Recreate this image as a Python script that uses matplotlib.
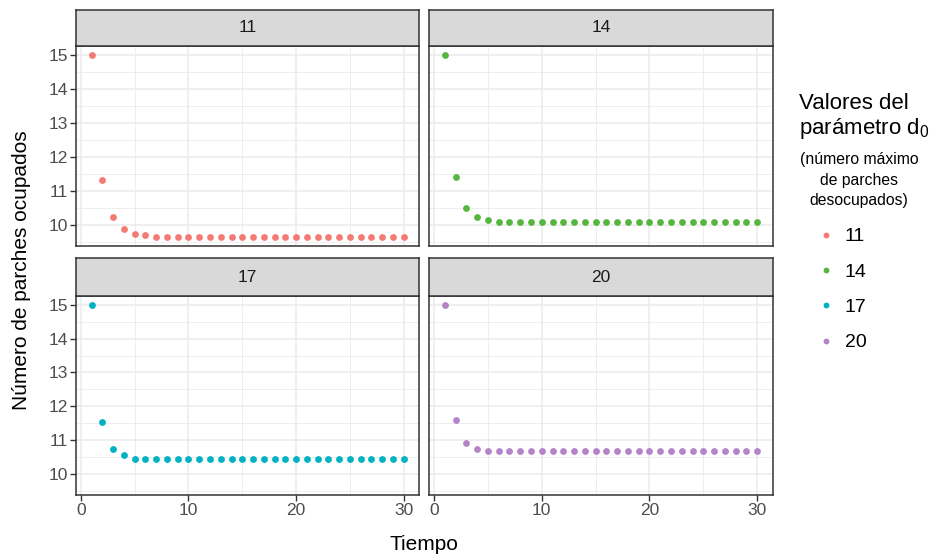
import matplotlib
matplotlib.use("Agg")
import matplotlib.pyplot as plt
from matplotlib.lines import Line2D
from matplotlib.ticker import MultipleLocator

plt.rcParams['font.family'] = ['Liberation Sans', 'DejaVu Sans']
plt.rcParams['mathtext.fontset'] = 'custom'
plt.rcParams['mathtext.rm'] = 'Liberation Sans'

# datos
tiempo = list(range(1, 31))
d0_niveles = ["11", "14", "17", "20"]
ocup_11 = [15.0, 11.33, 10.25, 9.89, 9.75, 9.70] + [9.65] * 24
ocup_14 = [15.0, 11.42, 10.51, 10.25, 10.15] + [10.10] * 25
ocup_17 = [15.0, 11.55, 10.74, 10.56] + [10.46] * 26
ocup_20 = [15.0, 11.60, 10.91, 10.74] + [10.69] * 26
series = [ocup_11, ocup_14, ocup_17, ocup_20]
colores = ["#F47A74", "#56B640", "#00B2C2", "#B583C9"]

W, H = 935, 559
fig = plt.figure(figsize=(W / 100, H / 100), dpi=100)

# posiciones de paneles en pixeles (x0, x1) y (franja arriba, panel arriba, panel abajo)
cols = [(76, 419.3), (429.3, 772.7)]
rows = [(9.5, 46, 246), (258.3, 295.7, 495)]

ymin, ymax = 9.65, 15.0
yr = ymax - ymin
xr = 29

for i, (nivel, vals, col) in enumerate(zip(d0_niveles, series, colores)):
    r, c = divmod(i, 2)
    x0, x1 = cols[c]
    st, pt, pb = rows[r]
    ax = fig.add_axes([x0 / W, 1 - pb / H, (x1 - x0) / W, (pb - pt) / H])
    ax.scatter(tiempo, vals, s=24, color=col, linewidths=0, zorder=3)
    ax.set_xlim(1 - 0.05 * xr, 30 + 0.05 * xr)
    ax.set_ylim(ymin - 0.05 * yr, ymax + 0.05 * yr)
    ax.xaxis.set_major_locator(MultipleLocator(10))
    ax.xaxis.set_minor_locator(MultipleLocator(5))
    ax.yaxis.set_major_locator(MultipleLocator(1))
    ax.yaxis.set_minor_locator(MultipleLocator(0.5))
    ax.grid(which='major', color='#EBEBEB', linewidth=1.1, zorder=0)
    ax.grid(which='minor', color='#EBEBEB', linewidth=0.6, zorder=0)
    ax.set_axisbelow(True)
    for s in ax.spines.values():
        s.set_color('#333333')
        s.set_linewidth(1.1)
    ax.tick_params(which='major', length=4, width=1, color='#333333',
                   labelsize=12.5, labelcolor='#4D4D4D', pad=2)
    ax.tick_params(which='minor', length=0)
    if c == 1:
        ax.tick_params(axis='y', left=False, labelleft=False)
    if r == 0:
        ax.tick_params(axis='x', bottom=False, labelbottom=False)
    # franja del panel
    sax = fig.add_axes([x0 / W, 1 - pt / H, (x1 - x0) / W, (pt - st) / H])
    sax.set_facecolor('#D9D9D9')
    sax.set_xticks([])
    sax.set_yticks([])
    for s in sax.spines.values():
        s.set_color('#333333')
        s.set_linewidth(1.1)
    sax.text(0.5, 0.5, nivel, ha='center', va='center', fontsize=12.5,
             color='#1A1A1A', transform=sax.transAxes)

fig.text(424 / W, 1 - 545 / H, "Tiempo", ha='center', va='center', fontsize=15)
fig.text(22 / W, 1 - 270 / H, "Número de parches ocupados", ha='center',
         va='center', rotation=90, fontsize=15)

fig.text(799 / W, 1 - 117 / H, "Valores del\nparámetro d$_\\mathregular{0}$",
         ha='left', va='center', fontsize=16, linespacing=1.1)
fig.text(859 / W, 1 - 180 / H, "(número máximo\nde parches\ndesocupados)",
         ha='center', va='center', fontsize=11.3, linespacing=1.45)

handles = [Line2D([], [], marker='o', linestyle='', markersize=4.2,
                  markerfacecolor=c, markeredgewidth=0) for c in colores]
fig.legend(handles, d0_niveles, loc='upper left', bbox_to_anchor=(808 / W, 1 - 220 / H),
           frameon=False, fontsize=14, labelspacing=0.91, handletextpad=0.5,
           handlelength=1.0, borderaxespad=0)

fig.savefig("out.png", dpi=100)
